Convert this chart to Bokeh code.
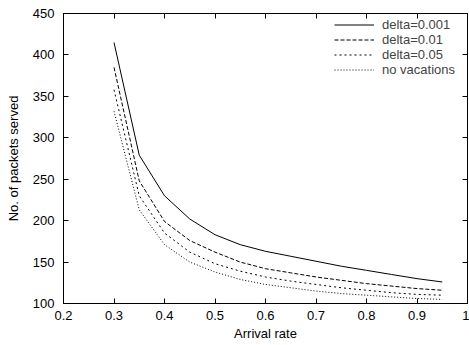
from bokeh.plotting import figure
from bokeh.models import LinearAxis, FixedTicker, CustomJSTickFormatter, Legend, LegendItem, Range1d
from bokeh.embed import file_html
from bokeh.resources import INLINE

arrival_rate = [0.3, 0.35, 0.4, 0.45, 0.5, 0.55, 0.6, 0.65, 0.7, 0.75, 0.8, 0.85, 0.9, 0.95]
delta_0001 = [415, 279, 230, 202, 183, 171, 163, 157, 151, 145, 140, 135, 130, 126]
delta_001 = [385, 248, 199, 176, 162, 150, 142, 137, 132, 128, 124, 121, 118, 116]
delta_005 = [358, 230, 185, 162, 148, 139, 132, 127, 123, 119, 116, 113, 111, 110]
no_vacations = [332, 213, 171, 150, 138, 129, 123, 119, 115, 112, 110, 108, 106, 105]

series_labels = ["delta=0.001", "delta=0.01", "delta=0.05", "no vacations"]
x_ticks = [0.2, 0.3, 0.4, 0.5, 0.6, 0.7, 0.8, 0.9, 1.0]
y_ticks = [100, 150, 200, 250, 300, 350, 400, 450]

FONT = "Liberation Sans"

p = figure(width=469, height=345, output_backend="svg", toolbar_location=None,
           x_range=Range1d(0.2, 1.0), y_range=Range1d(100, 450),
           min_border_left=63, min_border_right=2, min_border_top=13, min_border_bottom=42,
           x_axis_label="Arrival rate", y_axis_label="No. of packets served")
p.grid.visible = False
p.outline_line_color = "black"
p.outline_line_width = 1
p.background_fill_color = "white"
p.border_fill_color = "white"

fmt = CustomJSTickFormatter(code="return String(Math.round(tick*10)/10);")
blank = CustomJSTickFormatter(code="return '';")

for ax in p.xaxis:
    ax.ticker = FixedTicker(ticks=x_ticks)
    ax.formatter = fmt
for ax in p.yaxis:
    ax.ticker = FixedTicker(ticks=y_ticks)

for ax in list(p.xaxis) + list(p.yaxis):
    ax.major_tick_in = 5
    ax.major_tick_out = 0
    ax.minor_tick_in = 0
    ax.minor_tick_out = 0
    ax.axis_line_color = "black"
    ax.major_tick_line_color = "black"
    ax.major_label_text_font = FONT
    ax.major_label_text_font_size = "13px"
    ax.major_label_text_color = "black"
    ax.axis_label_text_font = FONT
    ax.axis_label_text_font_size = "13px"
    ax.axis_label_text_font_style = "normal"
    ax.axis_label_text_color = "black"

p.xaxis.major_label_standoff = 7
p.xaxis.axis_label_standoff = 3
p.yaxis.major_label_standoff = 9
p.yaxis.axis_label_standoff = 9

top_ax = LinearAxis(ticker=FixedTicker(ticks=x_ticks), formatter=blank, major_tick_in=5, major_tick_out=0,
                    minor_tick_in=0, minor_tick_out=0, major_label_text_font_size="1px",
                    major_label_standoff=0, axis_line_color="black")
right_ax = LinearAxis(ticker=FixedTicker(ticks=y_ticks), formatter=blank, major_tick_in=5, major_tick_out=0,
                      minor_tick_in=0, minor_tick_out=0, major_label_text_font_size="1px",
                      major_label_standoff=0, axis_line_color="black")
p.add_layout(top_ax, "above")
p.add_layout(right_ax, "right")

styles = [("black", "solid"), ("black", "4 2"), ("black", "2 3"), ("black", "1 2")]
all_series = [delta_0001, delta_001, delta_005, no_vacations]
items = []
for lab, ys, (col, dash) in zip(series_labels, all_series, styles):
    r = p.line(arrival_rate, ys, line_color=col, line_dash=dash, line_width=1)
    items.append(LegendItem(label=lab, renderers=[r]))

legend = Legend(items=items, location=(271, 226), border_line_color=None,
                background_fill_alpha=0, label_text_font=FONT, label_text_font_size="13px",
                label_height=13, glyph_height=13, glyph_width=40, spacing=0, padding=0,
                margin=0, label_standoff=8)
p.add_layout(legend)

open("out.html", "w").write(file_html(p, INLINE))
